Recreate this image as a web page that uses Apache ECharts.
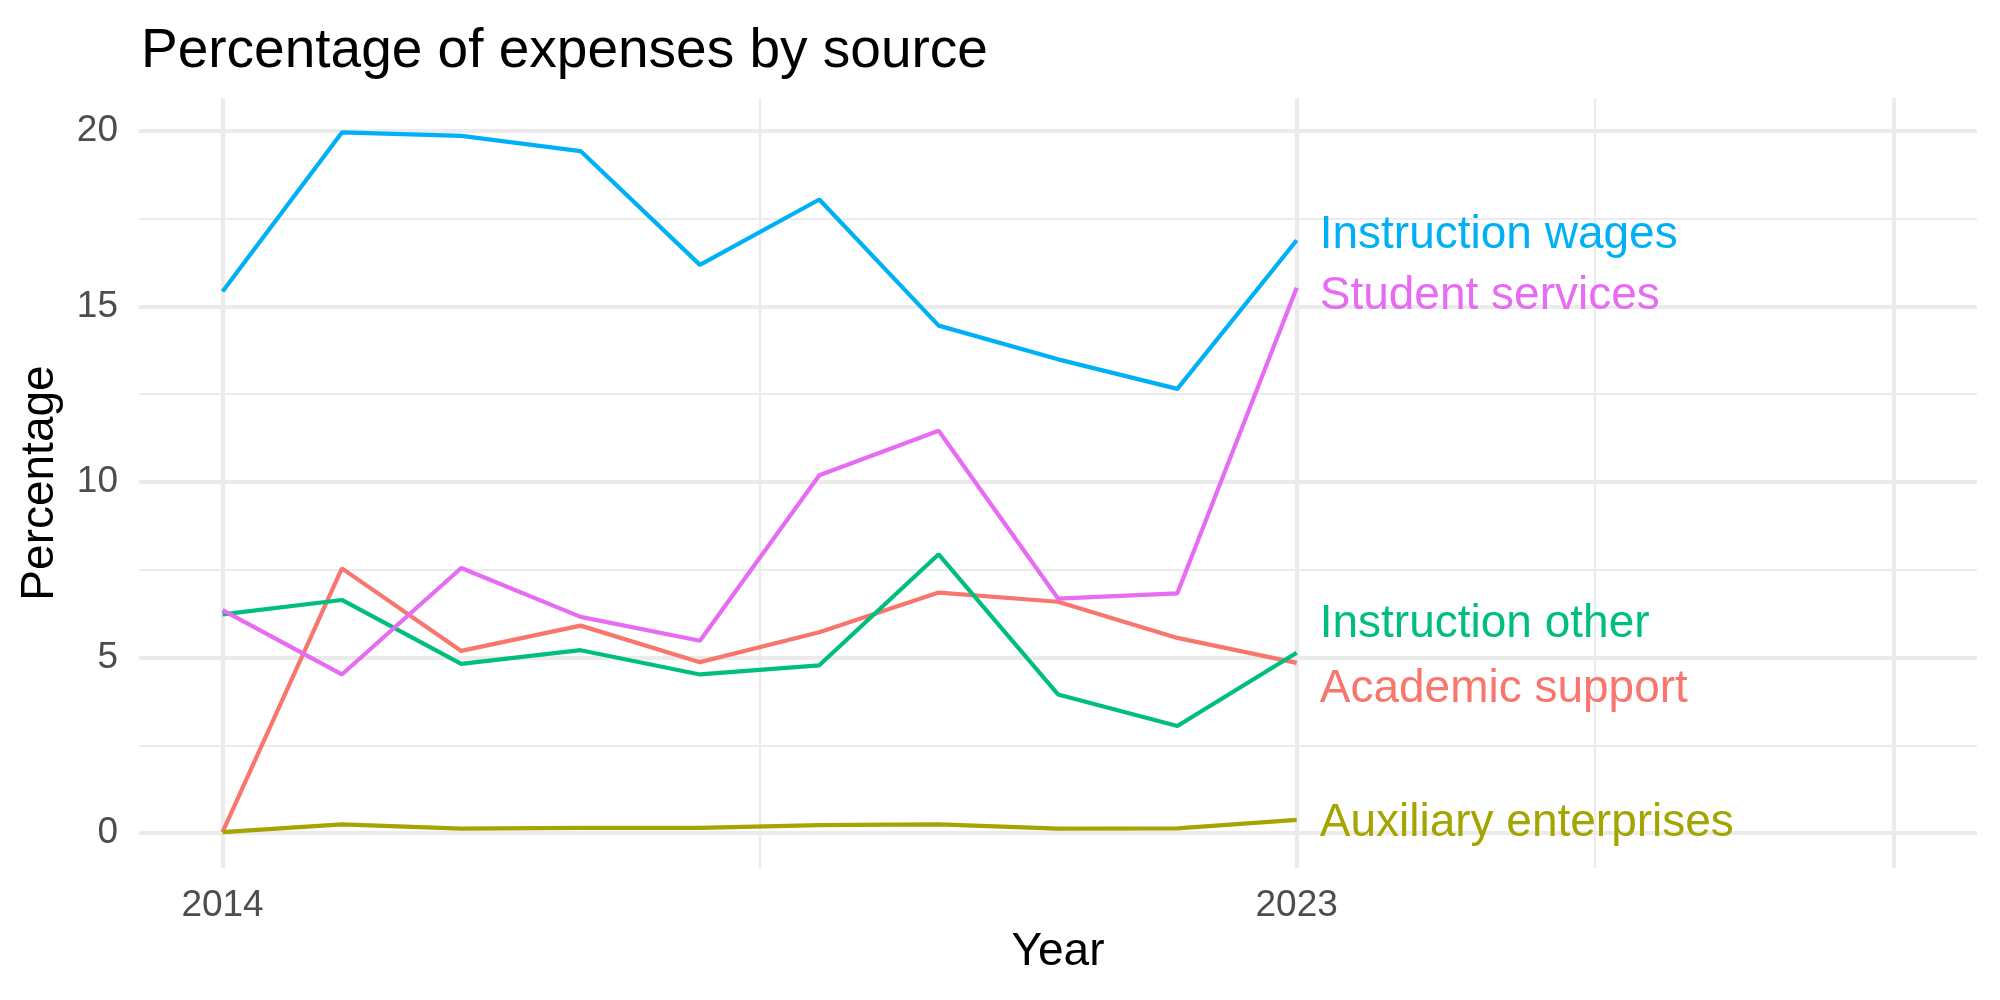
<!DOCTYPE html>
<html>
<head>
<meta charset="utf-8" />
<style>
  html, body { margin: 0; padding: 0; background: #ffffff; }
  #main { width: 2000px; height: 1000px; }
</style>
</head>
<body>
<div id="main"></div>
<script src="https://cdn.jsdelivr.net/npm/echarts@6/dist/echarts.min.js"></script>
<script>
  // data
  var years = [2014, 2015, 2016, 2017, 2018, 2019, 2020, 2021, 2022, 2023];
  var seriesNames = ['Academic support', 'Auxiliary enterprises', 'Instruction other', 'Instruction wages', 'Student services'];
  var academicSupport = [0.03, 7.54, 5.19, 5.91, 4.87, 5.72, 6.85, 6.59, 5.56, 4.85];
  var auxiliaryEnterprises = [0.03, 0.25, 0.13, 0.15, 0.15, 0.23, 0.25, 0.13, 0.14, 0.38];
  var instructionOther = [6.23, 6.64, 4.82, 5.21, 4.52, 4.78, 7.94, 3.95, 3.05, 5.14];
  var instructionWages = [15.42, 19.95, 19.85, 19.42, 16.18, 18.04, 14.45, 13.49, 12.65, 16.88];
  var studentServices = [6.35, 4.52, 7.55, 6.16, 5.48, 10.19, 11.46, 6.68, 6.83, 15.53];

  // ticks / grid lines
  var xTickLabels = [2014, 2023];
  var xMajor = [2014, 2023, 2028];
  var xMinor = [2018.5, 2025.5];
  var yMajor = [0, 5, 10, 15, 20];
  var yMinor = [2.5, 7.5, 12.5, 17.5];

  var colors = ['#F8766D', '#A3A500', '#00BF7D', '#00B0F6', '#E76BF3'];
  var values = [academicSupport, auxiliaryEnterprises, instructionOther, instructionWages, studentServices];
  // vertical nudge (px) of the end labels, like ggrepel did
  var labelNudge = [26, 3, -28, -5, 9];

  var FONT = '"Liberation Sans", Arial, Helvetica, sans-serif';
  var GRID = '#EBEBEB';

  var gridLines = [];
  xMajor.forEach(function (v) { gridLines.push({ xAxis: v, lineStyle: { width: 4.2 } }); });
  xMinor.forEach(function (v) { gridLines.push({ xAxis: v, lineStyle: { width: 2.2 } }); });
  yMajor.forEach(function (v) { gridLines.push({ yAxis: v, lineStyle: { width: 4.2 } }); });
  yMinor.forEach(function (v) { gridLines.push({ yAxis: v, lineStyle: { width: 2.2 } }); });

  var series = seriesNames.map(function (name, i) {
    var pts = years.map(function (y, j) { return [y, values[i][j]]; });
    var last = pts[pts.length - 1];
    var s = {
      name: name,
      type: 'line',
      data: pts,
      symbol: 'none',
      lineStyle: { color: colors[i], width: 4.2 },
      itemStyle: { color: colors[i] },
      z: 2,
      markPoint: {
        symbol: 'circle',
        symbolSize: 0,
        silent: true,
        data: [{ coord: last, value: name }],
        label: {
          show: true,
          position: 'right',
          distance: 23,
          offset: [0, labelNudge[i]],
          formatter: name,
          color: colors[i],
          fontSize: 46,
          fontFamily: FONT
        }
      }
    };
    if (i === 0) {
      s.markLine = {
        silent: true,
        z: 1,
        symbol: ['none', 'none'],
        label: { show: false },
        emphasis: { disabled: true },
        lineStyle: { color: GRID, type: 'solid' },
        data: gridLines
      };
    }
    return s;
  });

  var chart = echarts.init(document.getElementById('main'));
  chart.setOption({
    animation: false,
    backgroundColor: '#ffffff',
    title: {
      text: 'Percentage of expenses by source',
      left: 136,
      top: 19,
      textStyle: { fontFamily: FONT, fontSize: 55, fontWeight: 'normal', color: '#000000' }
    },
    grid: { left: 139, right: 23, top: 98, bottom: 132 },
    xAxis: {
      type: 'value',
      min: 2013.3,
      max: 2028.7,
      name: 'Year',
      nameLocation: 'middle',
      nameGap: 60,
      nameTextStyle: { fontFamily: FONT, fontSize: 46, color: '#000000' },
      axisLine: { show: false },
      axisTick: { show: false },
      splitLine: { show: false },
      axisLabel: {
        customValues: xTickLabels,
        formatter: function (v) { return String(v); },
        fontFamily: FONT,
        fontSize: 37,
        color: '#4D4D4D',
        margin: 19
      }
    },
    yAxis: {
      type: 'value',
      min: -0.99,
      max: 20.93,
      name: 'Percentage',
      nameLocation: 'middle',
      nameRotate: 90,
      nameGap: 76,
      nameTextStyle: { fontFamily: FONT, fontSize: 46, color: '#000000' },
      axisLine: { show: false },
      axisTick: { show: false },
      splitLine: { show: false },
      axisLabel: {
        customValues: yMajor,
        fontFamily: FONT,
        fontSize: 37,
        color: '#4D4D4D',
        margin: 21
      }
    },
    series: series
  });
</script>
</body>
</html>
